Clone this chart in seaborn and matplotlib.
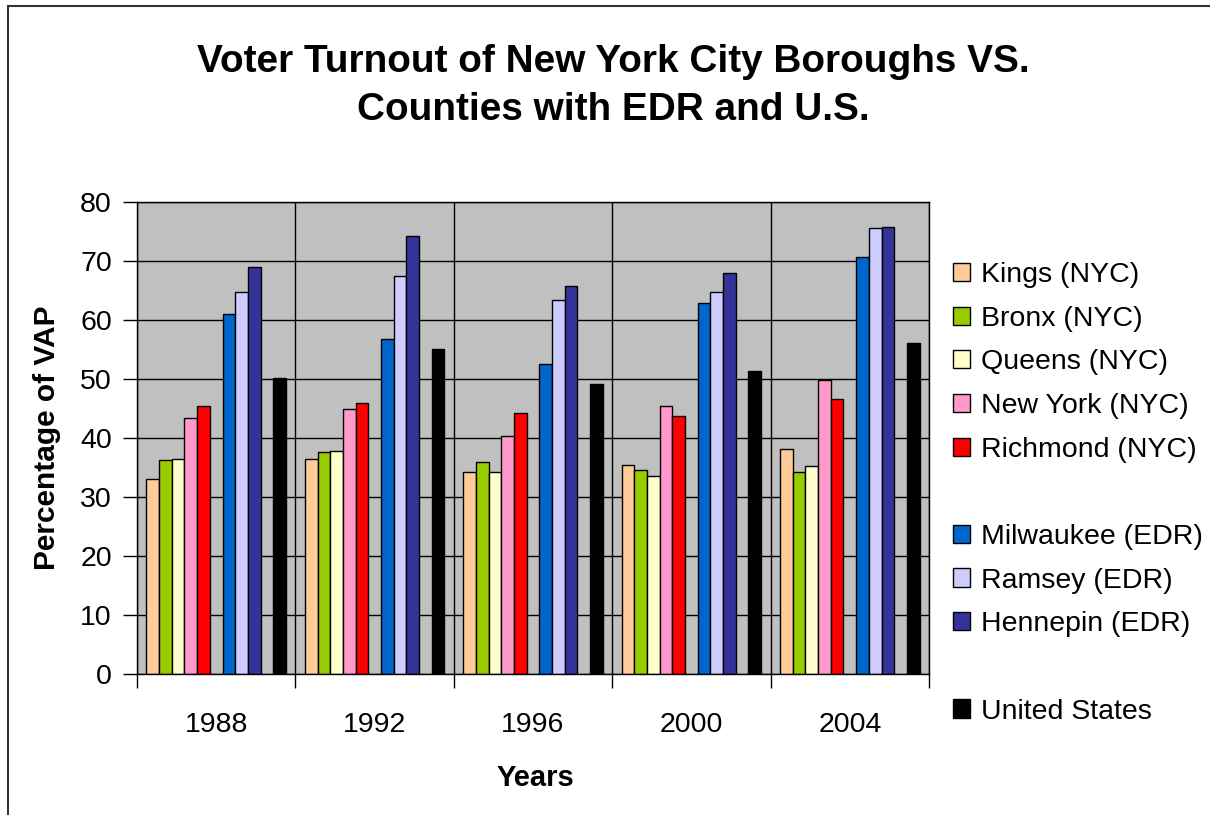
import numpy as np
import pandas as pd
import matplotlib.pyplot as plt
import seaborn as sns
from matplotlib.patches import Patch, Rectangle

# values (percentage of voting age population)
years = ['1988', '1992', '1996', '2000', '2004']
kings = [33.0, 36.5, 34.3, 35.5, 38.2]
bronx = [36.3, 37.6, 36.0, 34.6, 34.3]
queens = [36.5, 37.8, 34.3, 33.6, 35.3]
new_york = [43.4, 44.9, 40.4, 45.4, 49.8]
richmond = [45.4, 45.9, 44.2, 43.8, 46.6]
milwaukee = [61.0, 56.8, 52.6, 62.8, 70.6]
ramsey = [64.7, 67.4, 63.4, 64.7, 75.5]
hennepin = [68.9, 74.2, 65.7, 67.9, 75.8]
united_states = [50.2, 55.1, 49.2, 51.4, 56.1]

series_names = ['Kings (NYC)', 'Bronx (NYC)', 'Queens (NYC)', 'New York (NYC)', 'Richmond (NYC)',
                'Milwaukee (EDR)', 'Ramsey (EDR)', 'Hennepin (EDR)', 'United States']
series_values = [kings, bronx, queens, new_york, richmond, milwaukee, ramsey, hennepin, united_states]
series_colors = ['#FFCC99', '#99CC00', '#FFFFCC', '#FF99CC', '#FF0000',
                 '#0066CC', '#CCCCFF', '#333399', '#000000']

# long-form table
rows = []
for name, vals in zip(series_names, series_values):
    for yr, v in zip(years, vals):
        rows.append({'Year': yr, 'Series': name, 'Value': v})
df = pd.DataFrame(rows)

# two empty hue slots leave the gaps between the groups of bars
gap1, gap2 = ' ', '  '
hue_order = series_names[:5] + [gap1] + series_names[5:8] + [gap2] + series_names[8:]
palette = dict(zip(series_names, series_colors))
palette[gap1] = '#C0C0C0'
palette[gap2] = '#C0C0C0'

sns.set_theme(style='white')
plt.rcParams['font.family'] = ['Liberation Sans', 'DejaVu Sans']
plt.rcParams.update({'text.color': 'black', 'axes.labelcolor': 'black',
                     'xtick.color': 'black', 'ytick.color': 'black'})

fig, ax = plt.subplots(figsize=(12.1, 8.15), dpi=100)
fig.subplots_adjust(left=0.1132, right=0.7678, bottom=0.1726, top=0.7525)

sns.barplot(data=df, x='Year', y='Value', hue='Series', hue_order=hue_order,
            palette=palette, order=years, width=0.88, saturation=1,
            edgecolor='black', linewidth=1, errorbar=None, legend=False, ax=ax)

ax.set_facecolor('#C0C0C0')
ax.set_ylim(0, 80)
ax.set_xlim(-0.5, 4.5)
ax.set_yticks(range(0, 81, 10))
ax.set_xticks(np.arange(-0.5, 5, 1))
ax.set_xticklabels([])
ax.set_xticks(range(5), minor=True)
ax.set_xticklabels(years, minor=True)
ax.grid(True, which='major', color='black', linewidth=1)
ax.set_axisbelow(True)
ax.tick_params(axis='x', which='minor', length=0, pad=27, labelsize=20.5)
ax.tick_params(axis='x', which='major', length=10, width=1, direction='out', bottom=True)
ax.tick_params(axis='y', length=10, width=1, pad=8, labelsize=20.5, left=True)
for sp in ax.spines.values():
    sp.set_color('black')
    sp.set_linewidth(1)
ax.set_xlabel('')
ax.set_ylabel('')

fig.text(613 / 1210, 1 - 86 / 815,
         'Voter Turnout of New York City Boroughs VS.\nCounties with EDR and U.S.',
         ha='center', va='center', fontsize=27.9, fontweight='bold', linespacing=1.4)
fig.text(47 / 1210, 1 - 438 / 815, 'Percentage of VAP', rotation=90,
         ha='center', va='center', fontsize=21.5, fontweight='bold')
fig.text(535 / 1210, 1 - 778 / 815, 'Years', ha='center', va='center',
         fontsize=21, fontweight='bold')

# legend with blank rows between the groups
handles, labels = [], []
for name in hue_order:
    if name.strip() == '':
        handles.append(Patch(facecolor='none', edgecolor='none'))
        labels.append(' ')
    else:
        handles.append(Patch(facecolor=palette[name], edgecolor='black', linewidth=1))
        labels.append(name)
fig.legend(handles, labels, loc='upper left', bbox_to_anchor=(953 / 1210, 1 - 262 / 815),
           frameon=False, fontsize=20.5, handlelength=0.6, handleheight=0.6,
           handletextpad=0.4, labelspacing=0.62, borderpad=0, borderaxespad=0)

# outer chart border
fig.add_artist(Rectangle((8 / 1210, -0.05), 1.5, 1 - 6 / 815 + 0.05, transform=fig.transFigure,
                         fill=False, edgecolor='#333333', linewidth=1.5))

fig.savefig('out.png', dpi=100)
